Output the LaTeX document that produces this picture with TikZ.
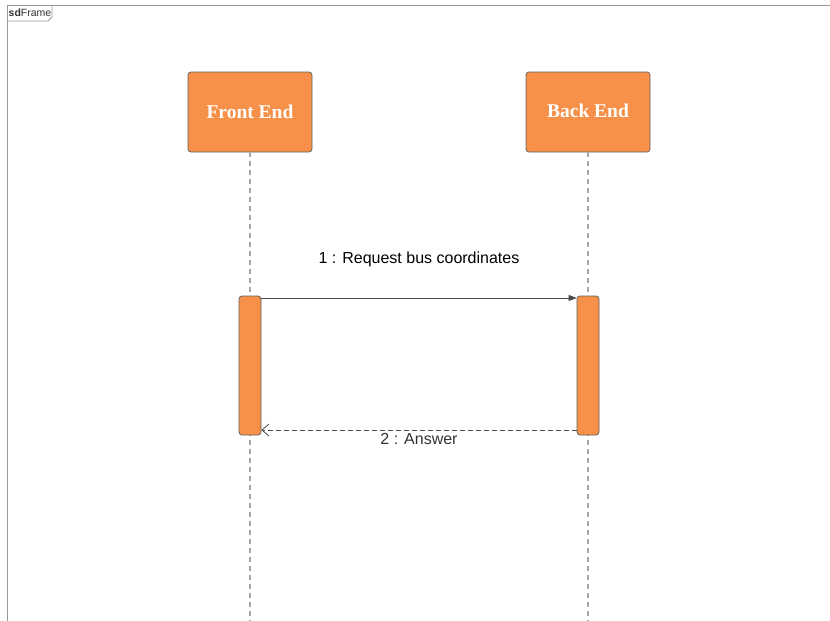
\documentclass[tikz,border=0pt]{standalone}
\usepackage{fontspec}
\setmainfont{Liberation Sans}
\newfontfamily\boxfont{Liberation Serif}
\usetikzlibrary{arrows.meta}
\definecolor{lifeorange}{HTML}{F79149}
\definecolor{edgegray}{HTML}{5E5E5E}
\definecolor{dashgray}{HTML}{A8A8A8}
\definecolor{framegray}{HTML}{9A9A9A}
\definecolor{msggray}{HTML}{4A4A4A}
\tikzset{
  x=1pt, y=-1pt,
  headbox/.style={draw=edgegray, line width=0.7pt, fill=lifeorange, rounded corners=3pt,
    minimum width=124pt, minimum height=80pt, inner sep=0pt,
    font=\boxfont\bfseries\fontsize{19.5}{22}\selectfont, text=white},
  actbox/.style={draw=edgegray, line width=0.7pt, fill=lifeorange, rounded corners=3pt,
    minimum width=22pt, minimum height=139pt, inner sep=0pt},
  lifeline/.style={draw=dashgray, line width=1.1pt, dash pattern=on 5pt off 4pt},
  msglabel/.style={font=\fontsize{16}{19}\selectfont, inner sep=0pt},
}
\begin{document}
\begin{tikzpicture}
\useasboundingbox (0,0) rectangle (830,621);
% frame
\draw[framegray, line width=1pt] (7,625) -- (7,5) -- (835,5);
\draw[framegray, line width=0.8pt] (52,5) -- (52,17) -- (48,21) -- (7,21);
\node[anchor=west, inner sep=0pt, font=\fontsize{10.5}{12}\selectfont, text=black!80] (tab) at (8.5,12.5) {\textbf{sd}Frame};
% lifeline heads
\node[headbox] (fe) at (250,112) {Front End};
\node[headbox] (be) at (588,112) {\raisebox{2pt}{Back End}};
\coordinate (feend) at (250,621);
\coordinate (beend) at (588,621);
\draw[lifeline] (fe.south) -- (feend);
\draw[lifeline] (be.south) -- (beend);
% activations
\node[actbox] (fa) at (250,365.5) {};
\node[actbox] (ba) at (588,365.5) {};
% messages
\coordinate (m1s) at (fa.east |- 0,298);
\coordinate (m1e) at (ba.west |- 0,298);
\draw[msggray, line width=0.8pt, -{Triangle[length=8pt,width=6pt]}] (m1s) -- (m1e);
\node[msglabel] (l1) at (419,259) {1 : Request bus coordinates};
\coordinate (m2s) at (ba.west |- 0,430);
\coordinate (m2e) at (fa.east |- 0,430);
\draw[msggray, line width=0.8pt, dash pattern=on 5pt off 3pt, -{Straight Barb[length=7pt,width=12pt,line width=0.8pt]}] (m2s) -- (m2e);
\node[msglabel, text=black!80] (l2) at (419,439) {2 : Answer};
\end{tikzpicture}
\end{document}
